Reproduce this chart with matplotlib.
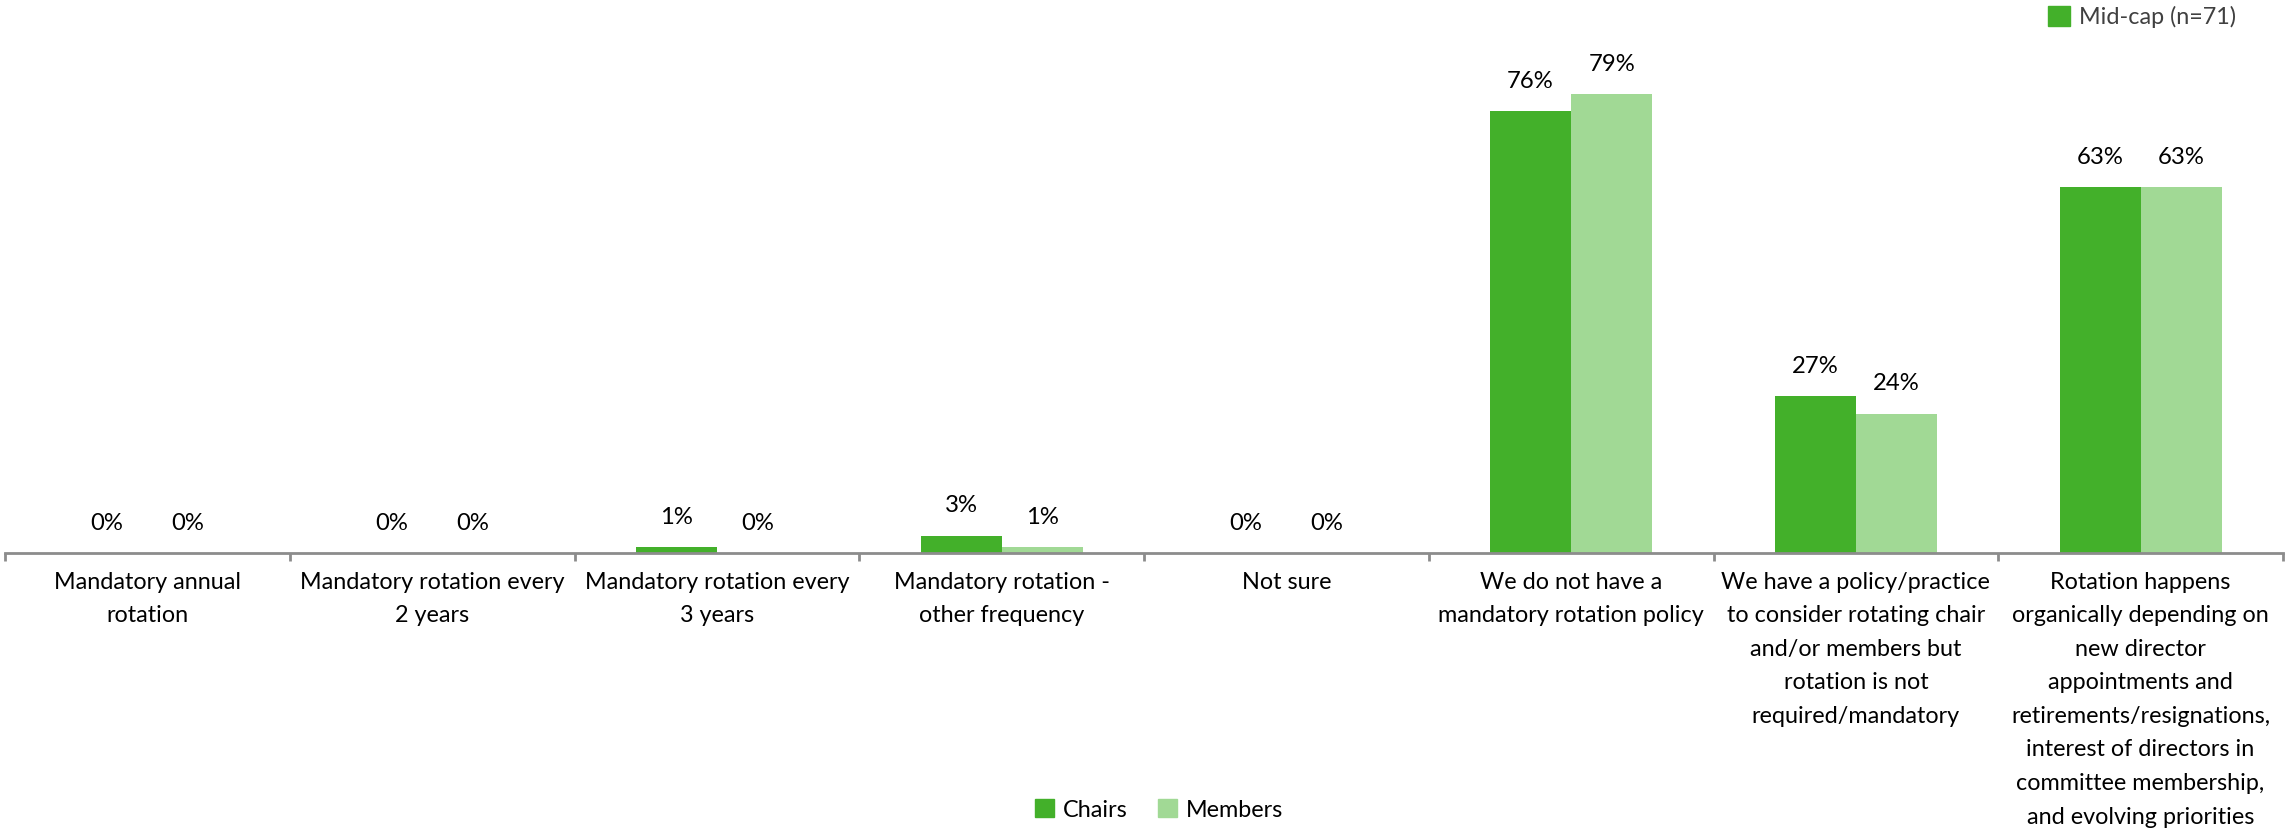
import matplotlib
matplotlib.use("Agg")
import matplotlib.pyplot as plt
from matplotlib.patches import Patch
import numpy as np

categories = [
    "Mandatory annual\nrotation",
    "Mandatory rotation every\n2 years",
    "Mandatory rotation every\n3 years",
    "Mandatory rotation -\nother frequency",
    "Not sure",
    "We do not have a\nmandatory rotation policy",
    "We have a policy/practice\nto consider rotating chair\nand/or members but\nrotation is not\nrequired/mandatory",
    "Rotation happens\norganically depending on\nnew director\nappointments and\nretirements/resignations,\ninterest of directors in\ncommittee membership,\nand evolving priorities",
]
chairs = [0, 0, 1, 3, 0, 76, 27, 63]
members = [0, 0, 0, 1, 0, 79, 24, 63]
series_names = ["Chairs", "Members"]
group_label = "Mid-cap (n=71)"

DARK = "#43B02A"
LIGHT = "#A1D995"
AXIS = "#8C8C8C"
FONT = "Lato"
FS = 16.8

plt.rcParams["font.family"] = [FONT, "DejaVu Sans"]

W, H = 2285, 832
fig = plt.figure(figsize=(W / 100, H / 100), dpi=100)

px_per_unit = 5.81
ymax = 90
ax_left, ax_right, ax_base = 5, 2283, 553
ax = fig.add_axes([ax_left / W, (H - ax_base) / H,
                   (ax_right - ax_left) / W, ymax * px_per_unit / H])

x = np.arange(len(categories))
bw = 0.2845
b1 = ax.bar(x - bw / 2, chairs, bw, color=DARK, label=series_names[0])
b2 = ax.bar(x + bw / 2, members, bw, color=LIGHT, label=series_names[1])

for bars, vals in ((b1, chairs), (b2, members)):
    for rect, v in zip(bars, vals):
        ax.annotate(f"{v}%", (rect.get_x() + rect.get_width() / 2, v),
                    xytext=(0, 14), textcoords="offset points",
                    ha="center", va="bottom", fontsize=FS + 0.4, color="#000000")

ax.set_xlim(-0.5, len(categories) - 0.5)
ax.set_ylim(0, ymax)
for s in ("top", "right", "left"):
    ax.spines[s].set_visible(False)
ax.spines["bottom"].set_color(AXIS)
ax.spines["bottom"].set_linewidth(2)
ax.set_yticks([])

# tick marks at the category boundaries, labels centred under each group
ax.set_xticks(np.arange(-0.5, len(categories), 1.0))
ax.set_xticklabels([])
ax.tick_params(axis="x", direction="out", length=6, width=2, color=AXIS)
for xi, lab in zip(x, categories):
    ax.text(xi, -3.2, lab, ha="center", va="top", fontsize=FS,
            color="#000000", linespacing=1.74,
            transform=ax.transData)

# series legend below the chart
fig.legend(handles=[Patch(color=DARK), Patch(color=LIGHT)],
           labels=series_names, loc="center", bbox_to_anchor=(1159 / W, 1 - 810 / H),
           ncol=2, frameon=False, fontsize=FS, handlelength=0.8, handleheight=0.8,
           handletextpad=0.4, columnspacing=1.3)

# group legend at top right
fig.legend(handles=[Patch(color=DARK)], labels=[group_label], loc="center",
           bbox_to_anchor=(2142 / W, 1 - 17 / H), frameon=False, fontsize=FS,
           handlelength=0.95, handleheight=0.95, handletextpad=0.4,
           labelcolor="#404040")

fig.savefig("out.png", dpi=100, facecolor="white")
